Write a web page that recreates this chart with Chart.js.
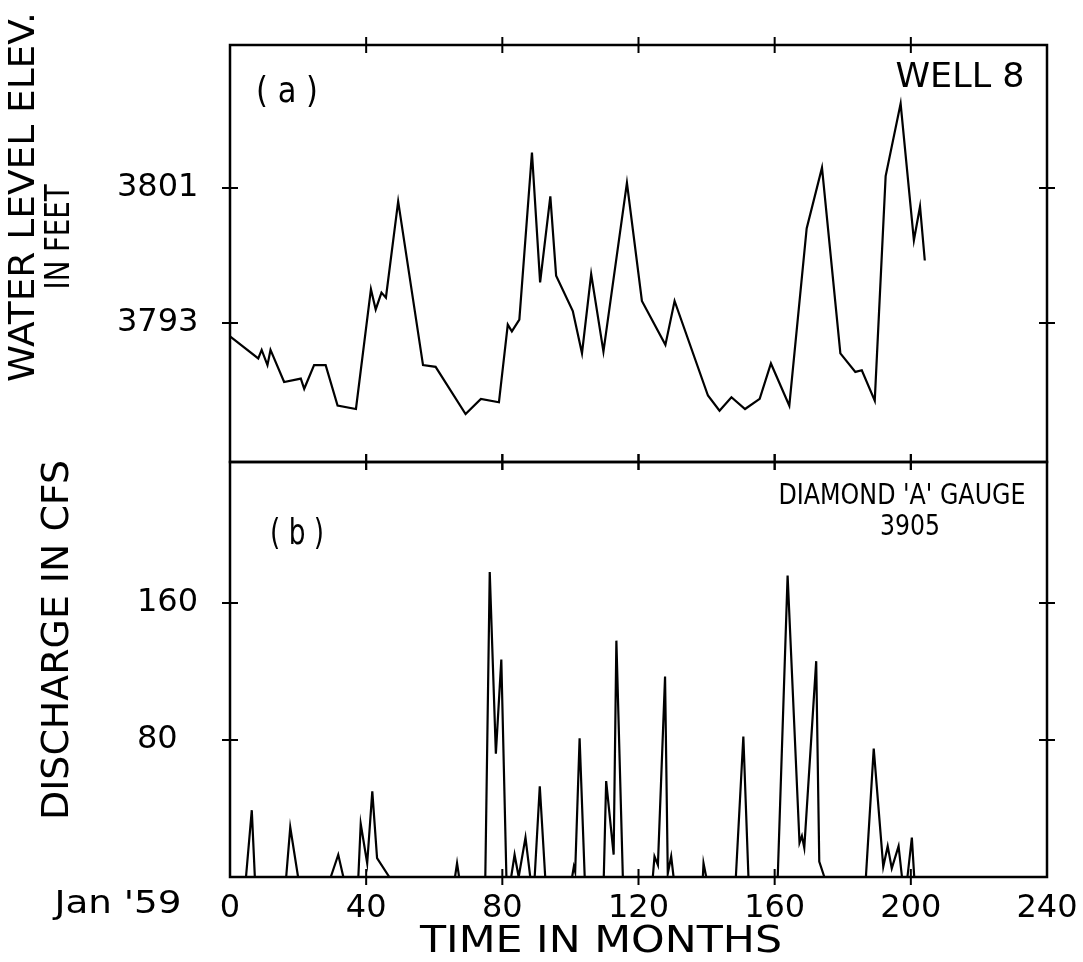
<!DOCTYPE html>
<html>
<head>
<meta charset="utf-8">
<script src="https://cdn.jsdelivr.net/npm/chart.js@4.4.1/dist/chart.umd.min.js"></script>
<style>
  html, body { margin: 0; padding: 0; background: #fff; }
  #wrap { position: relative; width: 1083px; height: 962px; }
  #wrap canvas { position: absolute; left: 0; top: 0; }
</style>
</head>
<body>
<div id="wrap">
  <canvas id="well" width="1083" height="962"></canvas>
  <canvas id="flow" width="1083" height="962"></canvas>
</div>
<script>
// panel (a) - well 8 water level, feet
const wellMonths = [0, 8.3, 9.3, 11.0, 11.9, 15.9, 20.8, 21.8, 24.7, 28.1, 31.6, 37.0, 41.4, 42.8, 44.5, 45.8,
  49.4, 56.7, 60.4, 69.2, 73.7, 79.0, 81.6, 82.8, 85.0, 88.7, 91.1, 94.1, 95.8, 100.7, 103.4, 106.1,
  109.7, 116.6, 121.0, 127.9, 130.6, 140.4, 143.8, 147.3, 151.3, 155.6, 158.9, 164.3, 169.4, 173.9,
  179.3, 183.7, 185.6, 189.4, 192.6, 197.0, 200.9, 202.7, 204.1];
const wellLevel = [3792.2, 3790.9, 3791.4, 3790.5, 3791.4, 3789.5, 3789.7, 3789.1, 3790.5, 3790.5, 3788.1, 3787.9,
  3795.0, 3793.8, 3794.8, 3794.5, 3800.2, 3790.5, 3790.4, 3787.6, 3788.5, 3788.3, 3792.9, 3792.5, 3793.2,
  3803.1, 3795.4, 3800.5, 3795.8, 3793.7, 3791.2, 3795.9, 3791.3, 3801.3, 3794.3, 3791.7, 3794.3, 3788.7,
  3787.8, 3788.6, 3787.9, 3788.5, 3790.6, 3788.1, 3798.6, 3802.2, 3791.2, 3790.1, 3790.2, 3788.4, 3801.7,
  3806.0, 3797.9, 3799.9, 3796.7];

// panel (b) - Diamond 'A' gauge discharge, cfs
const flowMonths = [0, 4.7, 6.4, 7.3, 16.5, 17.7, 20.0, 29.6, 31.8, 33.3, 37.7, 38.4, 40.3, 41.8, 43.2, 46.8,
  66.1, 66.7, 67.3, 75.0, 76.3, 78.1, 79.7, 81.2, 82.6, 83.6, 84.8, 86.8, 88.2, 89.5, 91.0, 92.6,
  100.5, 101.0, 101.4, 102.7, 104.2, 109.8, 110.5, 112.7, 113.5, 115.4, 124.2, 124.7, 125.7, 127.8,
  128.6, 129.6, 130.3, 138.9, 139.1, 139.9, 148.6, 150.8, 152.3, 160.9, 163.8, 167.3, 168.0, 168.7,
  172.2, 173.1, 174.6, 186.8, 189.1, 191.9, 193.2, 194.4, 196.4, 197.4, 199.0, 200.3, 201.0, 240];
const flowCfs = [0, 0, 39, 0, 0, 29, 0, 0, 13, 0, 0, 31, 8, 50, 11, 0,
  0, 8, 0, 0, 178, 72, 127, 0, 0, 13, 0, 23, 0, 0, 53, 0,
  0, 6, 3, 81, 0, 0, 56, 13, 138, 0, 0, 12, 7, 117,
  2, 12, 0, 0, 8, 0, 0, 82, 0, 0, 176, 20, 24, 17,
  126, 9, 0, 0, 75, 6, 18, 5, 18, 0, 0, 23, 0, 0];

const monthTicks = [0, 40, 80, 120, 160, 200, 240];
const wellTicks = [3793, 3801];
const flowTicks = [80, 160];

const FONT = '"DejaVu Sans", sans-serif';

function pts(xs, ys) {
  return xs.map((x, i) => ({ x: x, y: ys[i] }));
}

// text squeezed to a given length, optionally turned to read bottom-up
function drawLabel(ctx, l) {
  ctx.save();
  ctx.font = l.size + 'px ' + FONT;
  ctx.fillStyle = '#000';
  ctx.textAlign = 'center';
  ctx.textBaseline = 'middle';
  ctx.translate(l.x, l.y);
  if (l.rot) ctx.rotate(-Math.PI / 2);
  const m = ctx.measureText(l.text).width;
  ctx.scale(l.w / m, 1);
  ctx.fillText(l.text, 0, 0);
  ctx.restore();
}

// box round the plot area with cross ticks on every side
const framePlugin = {
  id: 'frame',
  afterDraw(chart, args, opts) {
    const { ctx, chartArea: a, scales } = chart;
    ctx.save();
    ctx.strokeStyle = '#000';
    ctx.lineWidth = 2.5;
    ctx.strokeRect(a.left, a.top, a.right - a.left, a.bottom - a.top);
    ctx.lineWidth = 2;
    const t = 8;
    ctx.beginPath();
    monthTicks.forEach(m => {
      if (m <= 0 || m >= 240) return;
      const x = scales.x.getPixelForValue(m);
      [a.top, a.bottom].forEach(y => { ctx.moveTo(x, y - t); ctx.lineTo(x, y + t); });
    });
    scales.y.ticks.forEach(tk => {
      const y = scales.y.getPixelForValue(tk.value);
      [a.left, a.right].forEach(x => { ctx.moveTo(x - t, y); ctx.lineTo(x + t, y); });
    });
    ctx.stroke();
    (opts.labels || []).forEach(l => drawLabel(ctx, l));
    ctx.restore();
  }
};

function lineSet(data) {
  return {
    data: data,
    borderColor: '#000',
    borderWidth: 2.2,
    pointRadius: 0,
    tension: 0,
    fill: false
  };
}

const plain = v => String(v);

new Chart(document.getElementById('well'), {
  type: 'line',
  data: { datasets: [lineSet(pts(wellMonths, wellLevel))] },
  plugins: [framePlugin],
  options: {
    responsive: false,
    animation: false,
    layout: { padding: { left: 117, right: 36, top: 45, bottom: 500 } },
    plugins: {
      legend: { display: false },
      tooltip: { enabled: false },
      frame: {
        labels: [
          { text: 'WATER LEVEL ELEV.', x: 25, y: 197, size: 36, w: 370, rot: true },
          { text: 'IN FEET', x: 60, y: 237, size: 34, w: 105, rot: true },
          { text: '( a )', x: 287, y: 93, size: 36, w: 62 },
          { text: 'WELL 8', x: 960, y: 78, size: 33, w: 129 }
        ]
      }
    },
    scales: {
      x: { type: 'linear', min: 0, max: 240, display: false },
      y: {
        type: 'linear',
        min: 3784.76,
        max: 3809.47,
        afterBuildTicks: s => { s.ticks = wellTicks.map(v => ({ value: v })); },
        afterFit: s => { s.width = 113; },
        grid: { display: false, drawTicks: false },
        border: { display: false },
        ticks: { callback: plain, crossAlign: 'far', padding: 0, color: '#000', font: { family: FONT, size: 32 } }
      }
    }
  }
});

new Chart(document.getElementById('flow'), {
  type: 'line',
  data: { datasets: [lineSet(pts(flowMonths, flowCfs))] },
  plugins: [framePlugin],
  options: {
    responsive: false,
    animation: false,
    layout: { padding: { left: 137, right: 36, top: 462, bottom: 0 } },
    plugins: {
      legend: { display: false },
      tooltip: { enabled: false },
      frame: {
        labels: [
          { text: 'DISCHARGE IN CFS', x: 58, y: 640, size: 37, w: 360, rot: true },
          { text: '( b )', x: 297, y: 535, size: 36, w: 54 },
          { text: "DIAMOND 'A' GAUGE", x: 902, y: 497, size: 28, w: 247 },
          { text: '3905', x: 910, y: 528, size: 28, w: 60 },
          { text: "Jan '59", x: 118, y: 905, size: 32, w: 127 },
          { text: 'TIME IN MONTHS', x: 601, y: 942, size: 38, w: 362 }
        ]
      }
    },
    scales: {
      x: {
        type: 'linear',
        min: 0,
        max: 240,
        afterBuildTicks: s => { s.ticks = monthTicks.map(v => ({ value: v })); },
        afterFit: s => { s.height = 85; s.paddingLeft = 0; s.paddingRight = 0; },
        grid: { display: false, drawTicks: false },
        border: { display: false },
        ticks: { callback: plain, padding: 12, maxRotation: 0, color: '#000', font: { family: FONT, size: 32 } }
      },
      y: {
        type: 'linear',
        min: 0,
        max: 242.3,
        afterBuildTicks: s => { s.ticks = flowTicks.map(v => ({ value: v })); },
        afterFit: s => { s.width = 93; },
        grid: { display: false, drawTicks: false },
        border: { display: false },
        ticks: { callback: plain, crossAlign: 'far', padding: 0, color: '#000', font: { family: FONT, size: 32 } }
      }
    }
  }
});
</script>
</body>
</html>
